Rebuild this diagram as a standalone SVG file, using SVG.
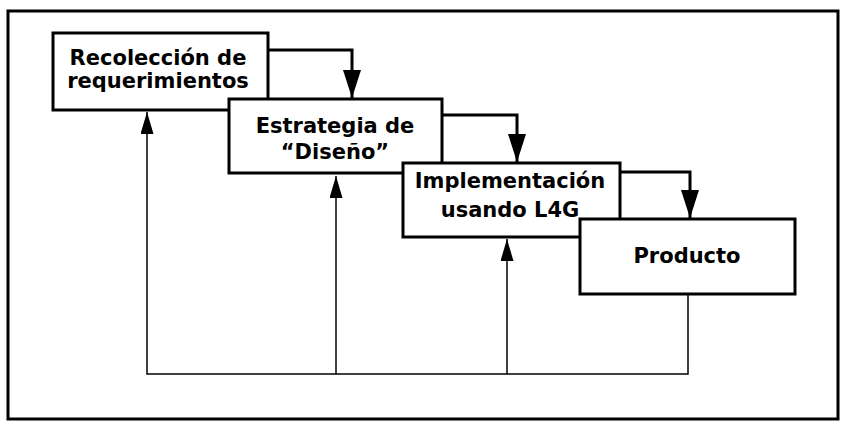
<svg xmlns="http://www.w3.org/2000/svg" width="843" height="427" viewBox="0 0 843 427">
<style>
.box{fill:#fff;stroke:#000;stroke-width:3}
.lbl{font-family:"DejaVu Sans","Liberation Sans",sans-serif;font-weight:bold;font-size:21px;fill:#000;text-anchor:middle}
.fwd{fill:none;stroke:#000;stroke-width:3}
.back{fill:none;stroke:#000;stroke-width:1.5}
</style>
<defs>
<marker id="ah" markerUnits="userSpaceOnUse" markerWidth="30" markerHeight="20" refX="28" refY="9" orient="auto">
<path d="M0,0 L28,9 L0,18 z" fill="#000"/>
</marker>
<marker id="ahs" markerUnits="userSpaceOnUse" markerWidth="24" markerHeight="14" refX="22" refY="6.5" orient="auto">
<path d="M0,0 L22,6.5 L0,13 z" fill="#000"/>
</marker>
</defs>
<rect x="8" y="11" width="830" height="408" fill="#fff" stroke="#000" stroke-width="3"/>
<g id="connectors">
<path class="fwd" d="M268,50 H352 V98" marker-end="url(#ah)"/>
<path class="fwd" d="M442,115 H517 V162" marker-end="url(#ah)"/>
<path class="fwd" d="M620,172 H690 V218" marker-end="url(#ah)"/>
<path class="back" d="M688,294 V374 H147 V112" marker-end="url(#ahs)"/>
<path class="back" d="M336,374 V176" marker-end="url(#ahs)"/>
<path class="back" d="M507,374 V239" marker-end="url(#ahs)"/>
</g>
<g id="n1">
<rect class="box" x="53" y="33" width="215" height="77"/>
<text class="lbl" x="158" y="65">Recolección de</text>
<text class="lbl" x="158" y="88">requerimientos</text>
</g>
<g id="n2">
<rect class="box" x="229" y="99" width="213" height="74"/>
<text class="lbl" x="335" y="133">Estrategia de</text>
<text class="lbl" x="335" y="159">“Diseño”</text>
</g>
<g id="n3">
<rect class="box" x="403" y="163" width="217" height="74"/>
<text class="lbl" x="510" y="188">Implementación</text>
<text class="lbl" x="510" y="217">usando L4G</text>
</g>
<g id="n4">
<rect class="box" x="580" y="219" width="215" height="75"/>
<text class="lbl" x="687" y="263">Producto</text>
</g>
</svg>
